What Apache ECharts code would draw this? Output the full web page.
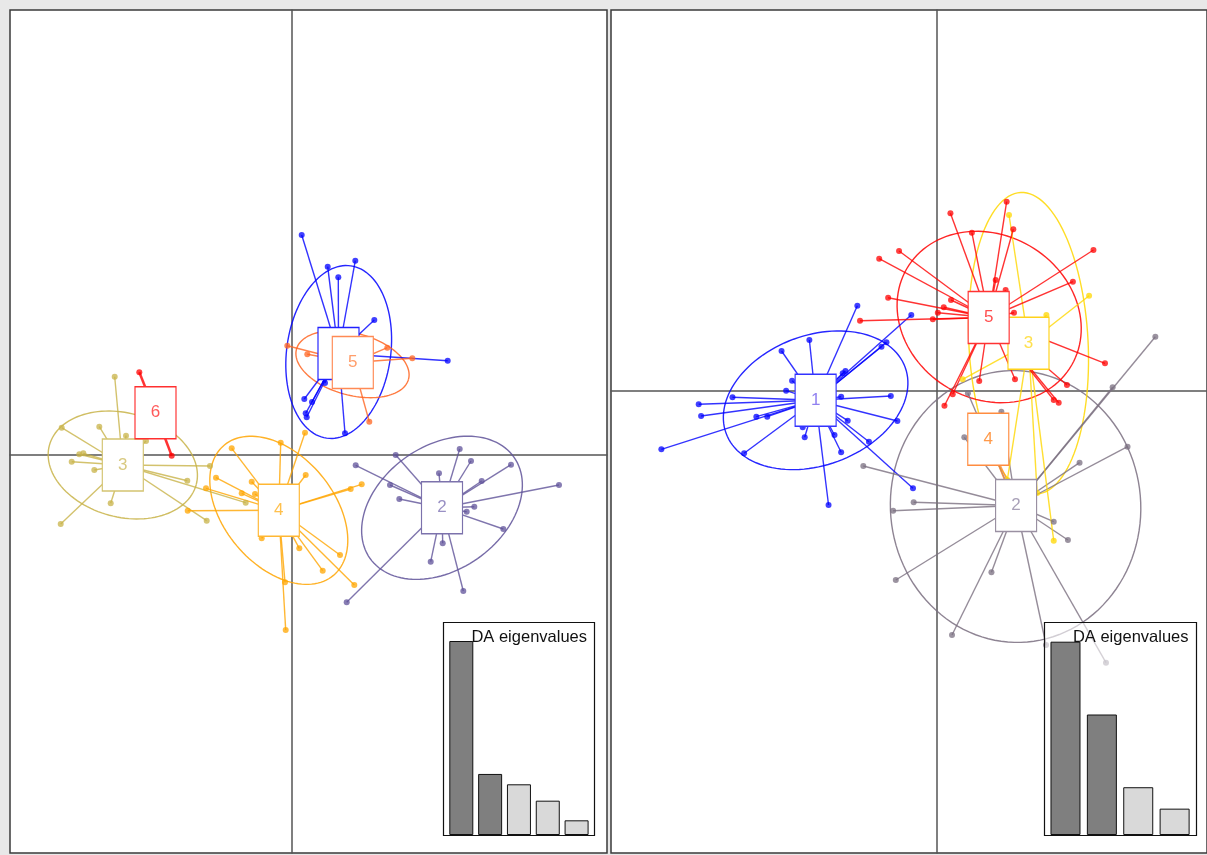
<!DOCTYPE html>
<html><head><meta charset="utf-8">
<script src="https://cdn.jsdelivr.net/npm/echarts@6/dist/echarts.min.js"></script>
<style>html,body{margin:0;padding:0;background:#e8e8e8;}#c{width:1207px;height:855px;}</style>
</head><body><div id="c"></div>
<script>
// ---------------- DATA (discriminant scores) ----------------
const leftLabels = ['1','2','3','4','5','6'];
const leftCentroids = [[4.65,10.15],[15.0,-5.28],[-16.92,-1.0],[-1.32,-5.53],[6.08,9.25],[-13.65,4.23]];
const leftPoints1 = [[0.97,22.0],[3.57,18.83],[4.63,17.77],[6.33,19.43],[8.23,13.5],[15.57,9.43],[1.23,5.6],[1.37,4.17],[1.47,3.77],[2.0,5.3],[5.3,2.17],[3.3,7.2]];
const leftPoints2 = [[10.37,0.0],[6.37,-1.03],[9.8,-3.0],[10.73,-4.4],[14.7,-1.83],[16.77,0.6],[17.9,-0.6],[18.97,-2.6],[21.9,-0.97],[26.7,-3.0],[18.23,-5.17],[17.47,-5.67],[21.13,-7.4],[15.07,-8.83],[13.87,-10.67],[17.13,-13.6],[5.47,-14.73]];
const leftPoints3 = [[-17.73,7.83],[-23.03,2.73],[-19.27,2.83],[-16.6,1.93],[-21.27,0.07],[-20.87,0.17],[-22.03,-0.67],[-19.77,-1.5],[-8.2,-1.1],[-10.47,-2.57],[-4.63,-4.77],[-8.53,-6.57],[-18.13,-4.83],[-23.13,-6.9],[-14.6,1.4]];
const leftPoints4 = [[-6.03,0.67],[-1.13,1.23],[1.3,2.23],[1.37,-2.0],[6.97,-2.93],[5.87,-3.4],[-7.6,-2.27],[-4.03,-2.67],[-5.03,-3.83],[-3.7,-3.9],[-8.6,-3.33],[-10.43,-5.57],[-3.03,-8.33],[0.73,-9.33],[3.07,-11.57],[4.8,-10.0],[6.23,-13.0],[-0.7,-12.73],[-0.63,-17.5]];
const leftPoints5 = [[-0.47,10.93],[1.53,10.07],[9.53,10.73],[12.03,9.67],[7.73,3.33]];
const leftPoints6 = [[-15.27,8.27],[-12.03,-0.07]];
// ellipses: [centerX, centerY, semi-major, semi-minor, angle in degrees]
const leftEllipses = [[4.67,10.3,8.7,5.2,82],[15.0,-5.28,8.8,6.2,35],[-16.92,-1.0,7.6,5.2,-15],[-1.32,-5.53,8.5,5.5,-50],[6.05,9.08,5.8,3.1,-15],null];

const rightLabels = ['1','2','3','4','5'];
const rightCentroids = [[-12.2,-0.92],[7.98,-11.45],[9.23,4.77],[5.18,-4.82],[5.22,7.35]];
const rightPoints1 = [[-8.0,8.53],[-2.57,7.6],[-5.07,4.87],[-5.57,4.43],[-12.83,5.1],[-15.63,4.0],[-14.57,1.03],[-15.17,0.03],[-20.57,-0.63],[-23.97,-1.33],[-23.73,-2.5],[-18.17,-2.57],[-17.07,-2.57],[-27.73,-5.83],[-19.4,-6.23],[-13.5,-3.63],[-13.3,-4.63],[-10.9,-11.4],[-10.3,-4.4],[-9.63,-6.13],[-8.97,-2.97],[-6.83,-5.07],[-3.97,-3.0],[-4.63,-0.5],[-9.63,-0.57],[-2.4,-9.73],[-9.47,1.77],[-9.2,2.0]];
const rightPoints2 = [[22.0,5.43],[17.7,0.37],[19.2,-5.57],[14.37,-7.17],[-7.4,-7.5],[-2.33,-11.13],[-4.4,-11.97],[11.77,-13.07],[13.2,-14.9],[-4.13,-18.9],[5.5,-18.13],[1.53,-24.4],[17.03,-27.17],[11.0,-25.4],[6.5,-2.07],[2.77,-4.63],[3.13,-0.23]];
const rightPoints3 = [[7.27,17.6],[15.33,9.53],[11.03,7.6],[2.6,1.17],[11.77,-14.97],[7.1,-8.9],[10.1,-10.2]];
const rightPoints4 = [[6.9,-9.1],[7.3,-9.4]];
const rightPoints5 = [[1.37,17.77],[3.53,15.83],[7.03,18.93],[7.7,16.17],[-3.8,14.0],[-5.8,13.23],[15.77,14.1],[13.7,10.93],[-4.9,9.33],[0.7,8.37],[1.43,9.1],[0.1,7.83],[-0.4,7.17],[-7.73,7.03],[5.93,11.1],[6.93,10.1],[16.93,2.77],[4.27,1.0],[7.87,1.17],[1.6,-0.33],[0.77,-1.47],[11.77,-0.9],[12.27,-1.17],[13.1,0.6],[7.77,7.83]];
const rightEllipses = [[-12.2,-0.93,9.6,6.5,20],[7.93,-11.55,13.6,12.6,95],[9.23,4.77,15.1,6.0,93],null,[5.27,7.4,9.6,8.2,-30]];

const eigenCategories = ['1','2','3','4','5'];
const leftEigen = [1255,395,328,222,95];
const rightEigen = [450.3,280.7,111.3,61.4];
const leftRetained = 2;
const rightRetained = 2;

// ---------------- STYLE ----------------
const leftColors = ['#0000FF','#5F5299','#C8B348','#FFA500','#FF6420','#FF0000'];
const leftBoxColors = ['#2020FF','#7C72AC','#D3C370','#FFB733','#FF8A55','#FF3030'];
const leftTextColors = ['#8080FF','#9990C4','#D8C980','#FFC04D','#FF9E6B','#FF5A5A'];
const leftWidths = [1.4,1.4,1.4,1.4,1.4,2.5];
const rightColors = ['#0000FF','#7A6F80','#FFD700','#FF8C30','#FF0000'];
const rightBoxColors = ['#3333FF','#9A90A2','#FFD21A','#FF8C40','#FF3333'];
const rightTextColors = ['#9080F0','#A9A1B8','#FFE04D','#FF9A4A','#FF5050'];
const rightWidths = [1.4,1.4,1.4,1.4,1.4];
const FONT = 'Liberation Sans, Arial, sans-serif';

function ellipseRenderer(color) {
  return function (params, api) {
    const c = api.coord([api.value(0), api.value(1)]);
    const u = api.size([1, 1]);
    const a = api.value(2), b = api.value(3), ang = api.value(4) * Math.PI / 180;
    const pts = [];
    for (let i = 0; i <= 120; i++) {
      const t = i / 120 * 2 * Math.PI;
      const dx = a * Math.cos(t) * Math.cos(ang) - b * Math.sin(t) * Math.sin(ang);
      const dy = a * Math.cos(t) * Math.sin(ang) + b * Math.sin(t) * Math.cos(ang);
      pts.push([c[0] + dx * u[0], c[1] - dy * u[1]]);
    }
    return { type: 'polyline', shape: { points: pts }, style: { fill: null, stroke: color, lineWidth: 1.4, opacity: 0.85 } };
  };
}
function segRenderer(centroid, color, width) {
  return function (params, api) {
    const p0 = api.coord(centroid);
    const p1 = api.coord([api.value(0), api.value(1)]);
    return { type: 'line', shape: { x1: p0[0], y1: p0[1], x2: p1[0], y2: p1[1] }, style: { stroke: color, lineWidth: width, opacity: 0.8 } };
  };
}
function panelSeries(gi, labels, centroids, pointSets, ellipses, colors, boxColors, textColors, widths) {
  const s = [];
  ellipses.forEach((e, i) => {
    if (!e) return;
    s.push({ type: 'custom', xAxisIndex: gi, yAxisIndex: gi, clip: true, z: 2, silent: true, data: [e], renderItem: ellipseRenderer(colors[i]) });
  });
  pointSets.forEach((pts, i) => {
    s.push({ type: 'custom', xAxisIndex: gi, yAxisIndex: gi, clip: true, z: 3, silent: true, data: pts, renderItem: segRenderer(centroids[i], colors[i], widths[i]) });
    s.push({ type: 'scatter', xAxisIndex: gi, yAxisIndex: gi, clip: true, z: 4, silent: true, symbolSize: 6, data: pts, itemStyle: { color: colors[i], opacity: 0.75 } });
  });
  centroids.forEach((c, i) => {
    s.push({
      type: 'scatter', xAxisIndex: gi, yAxisIndex: gi, clip: true, z: 5 + i, silent: true, symbol: 'rect', symbolSize: [41, 52],
      data: [{ value: c, name: labels[i] }],
      itemStyle: { color: '#ffffff', borderColor: boxColors[i], borderWidth: 1.3, opacity: 1 },
      label: { show: true, position: 'inside', formatter: '{b}', fontSize: 17, fontFamily: FONT, color: textColors[i] }
    });
  });
  return s;
}
function eigenSeries(gi, values, retained, bw) {
  return {
    type: 'bar', xAxisIndex: gi, yAxisIndex: gi, z: 21, silent: true, barWidth: bw,
    data: values.map((v, i) => ({ value: v, itemStyle: { color: i < retained ? '#7F7F7F' : '#D9D9D9', borderColor: '#111', borderWidth: 1 } }))
  };
}
const panelAxisLine = { show: true, onZero: true, lineStyle: { color: '#555', width: 1.5 } };
const hiddenParts = { axisTick: { show: false }, axisLabel: { show: false }, splitLine: { show: false } };

const chart = echarts.init(document.getElementById('c'), null, { renderer: 'canvas' });
chart.setOption({
  animation: false,
  backgroundColor: '#e8e8e8',
  grid: [
    { left: 10, top: 10, width: 597, height: 843, show: true, backgroundColor: '#ffffff', borderColor: '#3a3a3a', borderWidth: 1.5 },
    { left: 611, top: 10, width: 600, height: 843, show: true, backgroundColor: '#ffffff', borderColor: '#3a3a3a', borderWidth: 1.5 },
    { left: 446.9, top: 641, width: 144.1, height: 194 },
    { left: 1047.3, top: 641.7, width: 145.5, height: 193.3 }
  ],
  xAxis: [
    Object.assign({ type: 'value', gridIndex: 0, min: -28.2, max: 31.5, axisLine: panelAxisLine }, hiddenParts),
    Object.assign({ type: 'value', gridIndex: 1, min: -32.8, max: 27.2, axisLine: panelAxisLine }, hiddenParts),
    { type: 'category', gridIndex: 2, data: eigenCategories, show: false },
    { type: 'category', gridIndex: 3, data: eigenCategories.slice(0, rightEigen.length), show: false }
  ],
  yAxis: [
    Object.assign({ type: 'value', gridIndex: 0, min: -39.8, max: 44.5, axisLine: panelAxisLine }, hiddenParts),
    Object.assign({ type: 'value', gridIndex: 1, min: -46.2, max: 38.1, axisLine: panelAxisLine }, hiddenParts),
    { type: 'value', gridIndex: 2, min: 0, max: 'dataMax', show: false },
    { type: 'value', gridIndex: 3, min: 0, max: 'dataMax', show: false }
  ],
  graphic: [
    { type: 'rect', z: 20, silent: true, shape: { x: 443.5, y: 622.5, width: 151, height: 213 }, style: { fill: 'rgba(255,255,255,0.6)', stroke: '#111', lineWidth: 1.2 } },
    { type: 'rect', z: 20, silent: true, shape: { x: 1044.5, y: 622.5, width: 152, height: 213 }, style: { fill: 'rgba(255,255,255,0.6)', stroke: '#111', lineWidth: 1.2 } },
    { type: 'text', z: 22, silent: true, x: 587, y: 637, style: { text: 'DA eigenvalues', fill: '#111', font: '16.5px ' + FONT, textAlign: 'right', textVerticalAlign: 'middle' } },
    { type: 'text', z: 22, silent: true, x: 1188.5, y: 637, style: { text: 'DA eigenvalues', fill: '#111', font: '16.5px ' + FONT, textAlign: 'right', textVerticalAlign: 'middle' } }
  ],
  series: [].concat(
    panelSeries(0, leftLabels, leftCentroids, [leftPoints1, leftPoints2, leftPoints3, leftPoints4, leftPoints5, leftPoints6], leftEllipses, leftColors, leftBoxColors, leftTextColors, leftWidths),
    panelSeries(1, rightLabels, rightCentroids, [rightPoints1, rightPoints2, rightPoints3, rightPoints4, rightPoints5], rightEllipses, rightColors, rightBoxColors, rightTextColors, rightWidths),
    [eigenSeries(2, leftEigen, leftRetained, 24), eigenSeries(3, rightEigen, rightRetained, 30)]
  )
});
</script></body></html>
